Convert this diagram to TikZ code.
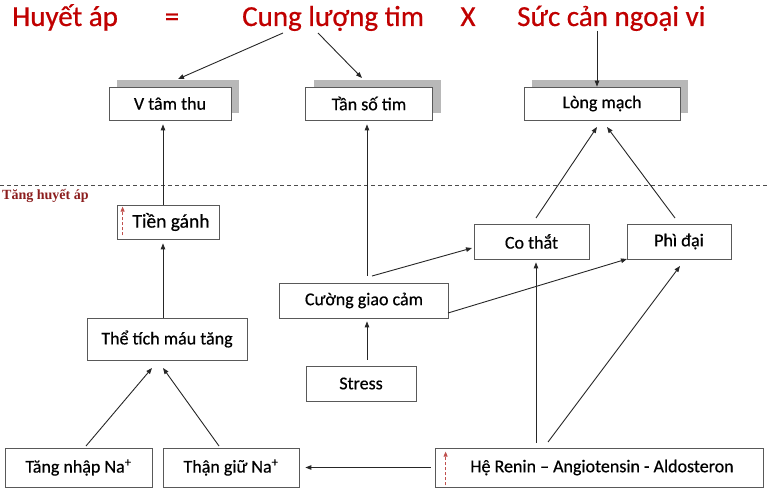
\documentclass[tikz,border=0pt]{standalone}
\usepackage{fontspec}
\setmainfont{Carlito}
\newfontfamily\boxfont[FakeBold=0.5]{Carlito}
\newfontfamily\titlefont[FakeBold=0.6]{Carlito}
\newfontfamily\labelfont{Liberation Serif}
\usetikzlibrary{arrows.meta,shadows,calc}
\definecolor{titlered}{RGB}{192,0,0}
\definecolor{lblred}{RGB}{140,30,30}
\definecolor{dashred}{RGB}{192,80,77}
\begin{document}
\begin{tikzpicture}[x=1pt,y=-1pt,
  box/.style={draw=black!65, line width=0.8pt, fill=white, inner sep=0pt,
    font=\boxfont\fontsize{18}{21}\selectfont},
  sbox/.style={box, general shadow={fill=black!28, shadow xshift=8pt, shadow yshift=7pt}},
  arr/.style={draw=black!85, line width=0.9pt, -{Triangle[length=6pt,width=4.5pt]}},
  redarr/.style={draw=dashred, line width=0.9pt, dash pattern=on 3pt off 2pt,
    -{Triangle[length=5pt,width=4pt]}},
  ttl/.style={text=titlered, font=\titlefont\fontsize{29}{32}\selectfont, inner sep=0pt}]
\useasboundingbox (0,0) rectangle (768,492);

% title
\node[ttl, anchor=base west] (tha) at (12,26) {Huyết áp};
\node[ttl, anchor=base] (teq) at (172,26) {=};
\node[ttl, anchor=base west] (tclt) at (242,26) {Cung lượng tim};
\node[ttl, anchor=base] (tx) at (468,26) {X};
\node[ttl, anchor=base west] (tsc) at (517,26) {Sức cản ngoại vi};

% separator
\draw[black!70, line width=0.9pt, dash pattern=on 4pt off 3pt] (0,185) -- (768,185);
\node[anchor=west, inner sep=0pt, text=lblred, font=\labelfont\bfseries\fontsize{14}{16}\selectfont] (lbl) at (2,196) {Tăng huyết áp};

% boxes
\node[sbox, minimum width=122pt, minimum height=33pt] (vtam) at (170,103.5) {V tâm thu};
\node[sbox, minimum width=127pt, minimum height=33pt] (tan) at (369,103.5) {Tần số tim};
\node[sbox, minimum width=156pt, minimum height=33pt] (long) at (602,103.5) {Lòng mạch};
\node[box, minimum width=102pt, minimum height=34pt, font=\boxfont\fontsize{19.5}{22}\selectfont] (tien) at (168,222) {\hspace{6pt}Tiền gánh};
\node[box, minimum width=160pt, minimum height=42pt] (the) at (167,339) {Thể tích máu tăng};
\node[box, minimum width=169pt, minimum height=35pt] (cuong) at (364,300.5) {Cường giao cảm};
\node[box, minimum width=110pt, minimum height=35pt] (stress) at (361,383.5) {Stress};
\node[box, minimum width=115pt, minimum height=35pt] (cothat) at (531.5,241.5) {Co thắt};
\node[box, minimum width=104pt, minimum height=35pt] (phi) at (679,241.5) {Phì đại};
\node[box, minimum width=147pt, minimum height=39pt] (tang) at (78.5,467.5) {Tăng nhập Na\textsuperscript{+}};
\node[box, minimum width=136pt, minimum height=39pt] (than) at (231,467.5) {Thận giữ Na\textsuperscript{+}};
\node[box, minimum width=328pt, minimum height=39pt] (renin) at (599,467.5) {\hspace{6pt}Hệ Renin – Angiotensin - Aldosteron};

% red dashed markers
\draw[redarr] ($(tien.south west)+(6,-4)$) -- ($(tien.north west)+(6,2)$);
\draw[redarr] ($(renin.south west)+(11,-2)$) -- ($(renin.north west)+(11,4)$);

% connector end points
\coordinate (c1s) at (283,33);  \coordinate (c1e) at (178,79);
\coordinate (c2s) at (318,33);  \coordinate (c2e) at (362,78);
\coordinate (c3s) at (597,31);
\coordinate (x163) at (163,0);
\coordinate (x367) at (367,0);
\coordinate (x536) at (536,0);
\coordinate (tg1) at (86,446);  \coordinate (th1) at (152,368);
\coordinate (tg2) at (219,446); \coordinate (th2) at (163,368);
\coordinate (cg1) at (372,276); \coordinate (co1) at (472,248);
\coordinate (cg2) at (448,313); \coordinate (ph1) at (627,259);
\coordinate (rn2) at (548,442); \coordinate (ph2) at (680,266);
\coordinate (co2) at (536,218); \coordinate (lm1) at (597,127);
\coordinate (ph3) at (675,218); \coordinate (lm2) at (607,127);

% connectors
\draw[arr] (c1s) -- (c1e);
\draw[arr] (c2s) -- (c2e);
\draw[arr] (c3s) -- (c3s |- long.north);
\draw[arr, shorten >=4pt] (tien.north -| x163) -- (vtam.south -| x163);
\draw[arr, shorten >=4pt] (the.north -| x163) -- (tien.south -| x163);
\draw[arr] (tg1) -- (th1);
\draw[arr] (tg2) -- (th2);
\draw[arr, shorten <=7pt, shorten >=4pt] (cuong.north -| x367) -- (tan.south -| x367);
\draw[arr, shorten <=6pt, shorten >=3pt] (stress.north -| x367) -- (cuong.south -| x367);
\draw[arr] (cg1) -- (co1);
\draw[arr] (cg2) -- (ph1);
\draw[arr, shorten <=5pt, shorten >=3pt] (renin.north -| x536) -- (cothat.south -| x536);
\draw[arr] (rn2) -- (ph2);
\draw[arr, shorten <=4pt, shorten >=6pt] (renin.west) -- (than.east);
\draw[arr] (co2) -- (lm1);
\draw[arr] (ph3) -- (lm2);
\end{tikzpicture}
\end{document}
